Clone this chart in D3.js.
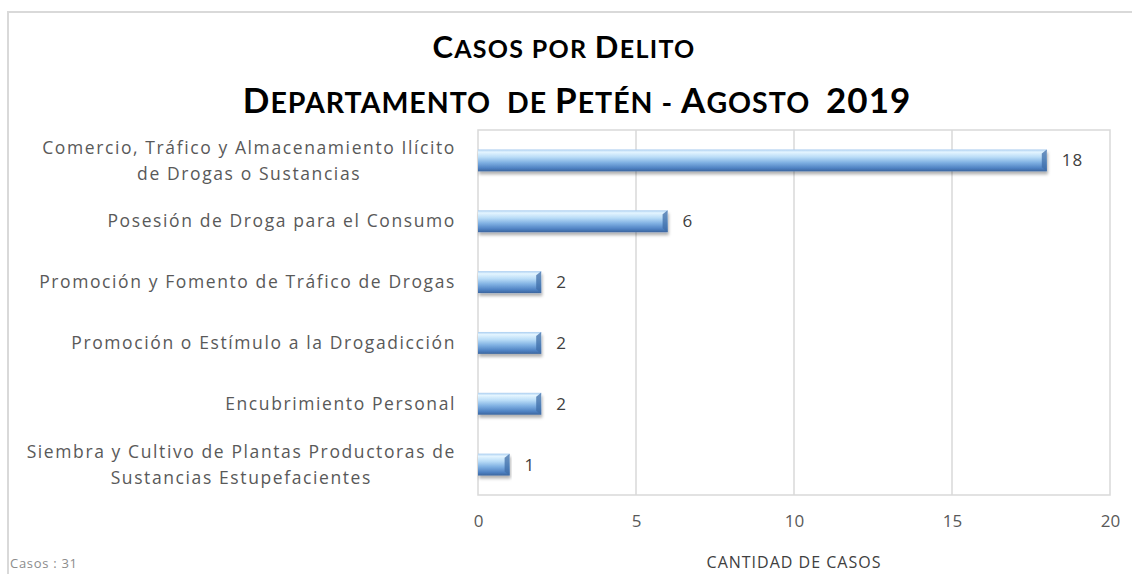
<!DOCTYPE html>
<html>
<head>
<meta charset="utf-8">
<script src="https://cdn.jsdelivr.net/npm/d3@7"></script>
<style>
  body { margin: 0; background: #fff; }
  svg { display: block; font-family: "Open Sans", Lato, sans-serif; }
</style>
</head>
<body>
<svg id="drawing_region"></svg>
<script>
// data
const categories = [
    "Comercio, Tráfico y Almacenamiento Ilícito\nde Drogas o Sustancias",
    "Posesión de Droga para el Consumo",
    "Promoción y Fomento de Tráfico de Drogas",
    "Promoción o Estímulo a la Drogadicción",
    "Encubrimiento Personal",
    "Siembra y Cultivo de Plantas Productoras de\nSustancias Estupefacientes"
];
const casos = [18, 6, 2, 2, 2, 1];
const xTicks = [0, 5, 10, 15, 20];
const titleLines = ["Casos por Delito", "Departamento  de Petén - Agosto  2019"];
const xTitle = "CANTIDAD DE CASOS";
const footNote = "Casos : 31";

const config = {
    width: 1132,
    height: 574,
    margin: {top: 130, right: 22, bottom: 79, left: 478}
};

const svg = d3.select('#drawing_region')
    .attr('width', config.width)
    .attr('height', config.height);

const inner_width = config.width - config.margin.left - config.margin.right;
const inner_height = config.height - config.margin.top - config.margin.bottom;

// outer chart frame (only top and left edges show)
svg.append('rect')
    .attr('x', 8).attr('y', 12)
    .attr('width', config.width + 20).attr('height', config.height + 20)
    .attr('fill', 'none')
    .attr('stroke', '#d9d9d9')
    .attr('stroke-width', 2);

// gradient for the bars
const defs = svg.append('defs');
const grad = defs.append('linearGradient')
    .attr('id', 'barGrad')
    .attr('x1', 0).attr('y1', 0).attr('x2', 0).attr('y2', 1);
[[0, '#a9cdf0'], [0.12, '#e4f5ff'], [0.35, '#b9dcf7'], [0.6, '#7fb0e2'], [0.85, '#4f82c3'], [1, '#3b659e']]
    .forEach(s => grad.append('stop').attr('offset', s[0]).attr('stop-color', s[1]));

const shadow = defs.append('filter').attr('id', 'shadow')
    .attr('x', '-5%').attr('y', '-20%').attr('width', '110%').attr('height', '160%');
shadow.append('feDropShadow')
    .attr('dx', 1).attr('dy', 3).attr('stdDeviation', 1.5)
    .attr('flood-color', '#000').attr('flood-opacity', 0.3);

const chart = svg.append('g')
    .attr('transform', `translate(${config.margin.left}, ${config.margin.top})`);

const xscale = d3.scaleLinear()
    .domain([0, 20])
    .range([0, inner_width]);

const yscale = d3.scaleBand()
    .domain(categories)
    .range([0, inner_height])
    .paddingInner(0.64)
    .paddingOuter(0.32);

// gridlines
chart.selectAll('.grid')
    .data(xTicks.slice(1, -1))
    .join('line')
    .attr('x1', d => xscale(d)).attr('x2', d => xscale(d))
    .attr('y1', 0).attr('y2', inner_height)
    .attr('stroke', '#d9d9d9')
    .attr('stroke-width', 1.5);

// plot area border
chart.append('rect')
    .attr('width', inner_width).attr('height', inner_height)
    .attr('fill', 'none')
    .attr('stroke', '#d9d9d9')
    .attr('stroke-width', 1.5);

// x axis
const xaxis = d3.axisBottom(xscale)
    .tickValues(xTicks)
    .tickSize(0)
    .tickPadding(20);

chart.append('g')
    .attr('transform', `translate(0, ${inner_height})`)
    .call(xaxis)
    .call(g => g.select('.domain').remove())
    .selectAll('text')
    .attr('font-family', '"Open Sans", sans-serif')
    .attr('font-size', '17px')
    .attr('fill', '#595959');

// bars
const bars = chart.selectAll('.bar')
    .data(casos)
    .join('g')
    .attr('class', 'bar')
    .attr('filter', 'url(#shadow)');

bars.append('rect')
    .attr('x', 0)
    .attr('y', (d, i) => yscale(categories[i]))
    .attr('width', d => xscale(d))
    .attr('height', yscale.bandwidth())
    .attr('fill', 'url(#barGrad)');

// bevelled right end of each bar
bars.append('path')
    .attr('d', (d, i) => {
        const x = xscale(d), y = yscale(categories[i]), h = yscale.bandwidth();
        return `M${x},${y} L${x - 5},${y + 4} L${x - 5},${y + h - 4} L${x},${y + h} Z`;
    })
    .attr('fill', '#3f6ea8')
    .attr('opacity', 0.75);

// value labels
chart.selectAll('.value')
    .data(casos)
    .join('text')
    .attr('x', d => xscale(d) + 15)
    .attr('y', (d, i) => yscale(categories[i]) + yscale.bandwidth() / 2)
    .attr('dy', '0.35em')
    .attr('font-size', '17px')
    .attr('letter-spacing', '1px')
    .attr('fill', '#404040')
    .text(d => d);

// category labels, wrapped lines centred within a right-aligned block
const labelRight = -22;
categories.forEach(c => {
    const lines = c.split('\n');
    const cy = yscale(c) + yscale.bandwidth() / 2;
    const lineH = 26;
    const g = chart.append('g');
    const texts = lines.map((l, j) => g.append('text')
        .attr('y', cy + (j - (lines.length - 1) / 2) * lineH)
        .attr('dy', '0.35em')
        .attr('font-size', '17.5px')
        .attr('letter-spacing', '1.6px')
        .attr('fill', '#595959')
        .attr('text-anchor', 'middle')
        .text(l));
    const w = d3.max(texts, t => t.node().getComputedTextLength());
    texts.forEach(t => t.attr('x', labelRight - w / 2));
});

// title with small caps drawn as two font sizes
const titleStyle = [
    {x: 564, y: 58, big: 31, small: 25},
    {x: 577, y: 113, big: 35, small: 28.5}
];
titleLines.forEach((line, i) => {
    const st = titleStyle[i];
    const t = svg.append('text')
        .attr('x', st.x)
        .attr('y', st.y)
        .attr('text-anchor', 'middle')
        .attr('font-family', 'Lato, sans-serif')
        .attr('font-weight', 'bold')
        .attr('letter-spacing', i === 0 ? '1.3px' : '1px')
        .attr('fill', '#000')
        .style('white-space', 'pre');
    line.split(/(\s+)/).forEach(word => {
        if (/^\s+$/.test(word)) {
            t.append('tspan').attr('font-size', st.small + 'px').text(word);
            return;
        }
        const first = word[0];
        const rest = word.slice(1);
        const big = /[A-Z0-9]/.test(first);
        t.append('tspan').attr('font-size', (big ? st.big : st.small) + 'px').text(first.toUpperCase());
        if (rest.length) {
            const restBig = /^[0-9]+$/.test(rest);
            t.append('tspan').attr('font-size', (restBig ? st.big : st.small) + 'px').text(rest.toUpperCase());
        }
    });
});

// axis title
svg.append('text')
    .attr('x', config.margin.left + inner_width / 2)
    .attr('y', 568)
    .attr('text-anchor', 'middle')
    .attr('font-size', '16px')
    .attr('letter-spacing', '1px')
    .attr('fill', '#404040')
    .text(xTitle);

// footnote
svg.append('text')
    .attr('x', 10)
    .attr('y', 568)
    .attr('font-size', '13px')
    .attr('letter-spacing', '0.7px')
    .attr('fill', '#8c8c8c')
    .text(footNote);
</script>
</body>
</html>
